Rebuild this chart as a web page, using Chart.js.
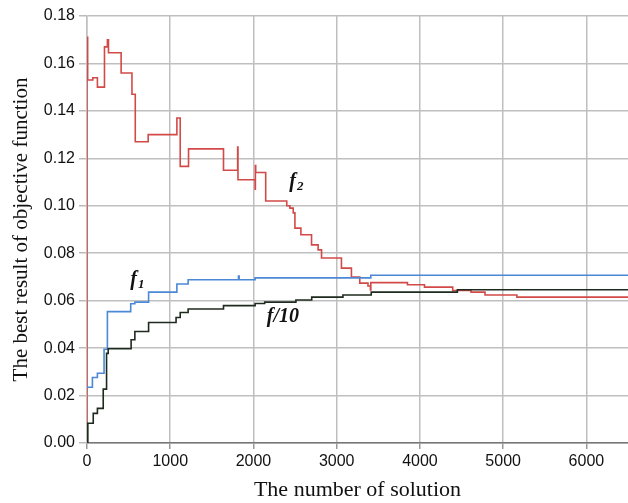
<!DOCTYPE html>
<html lang="en">
<head>
    <meta charset="UTF-8">
    <title>Best result of objective function</title>
    <script src="https://cdn.jsdelivr.net/npm/chart.js"></script>
    <style>
        html, body { margin: 0; padding: 0; background: #fff; }
        #wrap { width: 628px; height: 503px; position: relative; }
    </style>
</head>
<body>
    <div id="wrap">
        <canvas id="chart"></canvas>
    </div>

    <script>
        // step points: [number of solution, best value]; value holds until next point
        const f2Steps = [
            [0, 0], [0, 0.171], [8, 0.153], [70, 0.154], [125, 0.150], [210, 0.167],
            [245, 0.170], [258, 0.1645], [410, 0.156], [540, 0.147], [580, 0.127],
            [735, 0.130], [1080, 0.137], [1120, 0.1166], [1220, 0.124], [1640, 0.115],
            [1810, 0.1248], [1814, 0.111], [2020, 0.107], [2023, 0.117], [2027, 0.114],
            [2147, 0.102], [2400, 0.100], [2438, 0.099], [2478, 0.097], [2498, 0.0906],
            [2570, 0.0878], [2698, 0.0835], [2777, 0.0814], [2818, 0.078], [3057, 0.0737],
            [3177, 0.070], [3277, 0.0674], [3376, 0.0662], [3405, 0.0645], [3410, 0.0676],
            [3850, 0.0667], [4055, 0.0657], [4394, 0.0643], [4614, 0.0636], [4782, 0.0624],
            [5165, 0.0615], [6500, 0.0615]
        ];
        const f1Steps = [
            [0, 0.0235], [65, 0.0276], [125, 0.0294], [205, 0.0395], [245, 0.0554],
            [525, 0.0587], [575, 0.0594], [740, 0.0636], [1080, 0.067], [1215, 0.0688],
            [1820, 0.0704], [1828, 0.0688], [2020, 0.0696], [3410, 0.0707], [6500, 0.0707]
        ];
        const f10Steps = [
            [0, 0], [10, 0.0083], [75, 0.0125], [125, 0.0146], [195, 0.0227], [235, 0.0378],
            [255, 0.0397], [530, 0.0435], [575, 0.047], [740, 0.0508], [1070, 0.0529],
            [1120, 0.055], [1215, 0.0565], [1640, 0.0579], [2020, 0.0588], [2135, 0.0594],
            [2510, 0.0603], [2700, 0.0615], [3075, 0.0624], [3415, 0.0636], [4450, 0.0646],
            [6500, 0.0646]
        ];
        const xTicks = [0, 1000, 2000, 3000, 4000, 5000, 6000];
        const curveLabels = [
            { text: 'f', sub: '2', x: 2430, y: 0.1080 },
            { text: 'f', sub: '1', x: 520, y: 0.0665 },
            { text: 'f/10', sub: '', x: 2160, y: 0.0511 }
        ];
        const xTitle = 'The number of solution';
        const yTitle = 'The best result of objective function';

        const toXY = arr => arr.map(p => ({ x: p[0], y: p[1] }));

        const labelPlugin = {
            id: 'curveLabels',
            afterDatasetsDraw(chart) {
                const ctx = chart.ctx;
                const xs = chart.scales.x, ys = chart.scales.y;
                ctx.save();
                ctx.fillStyle = '#111';
                ctx.textBaseline = 'alphabetic';
                curveLabels.forEach(l => {
                    const px = xs.getPixelForValue(l.x);
                    const py = ys.getPixelForValue(l.y);
                    ctx.font = 'italic bold 20px "Liberation Serif", "Times New Roman", serif';
                    ctx.fillText(l.text, px, py);
                    if (l.sub) {
                        const w = ctx.measureText(l.text).width;
                        ctx.font = 'italic bold 13px "Liberation Serif", "Times New Roman", serif';
                        ctx.fillText(l.sub, px + w + 1, py + 3);
                    }
                });
                ctx.restore();
            }
        };

        const common = { fill: false, pointRadius: 0, borderWidth: 1.6, stepped: 'before' };

        new Chart(document.getElementById('chart'), {
            type: 'line',
            data: {
                datasets: [
                    { ...common, label: 'f/10', data: toXY(f10Steps), borderColor: '#1f2a1f' },
                    { ...common, label: 'f1', data: toXY(f1Steps), borderColor: '#4b88d6' },
                    { ...common, label: 'f2', data: toXY(f2Steps), borderColor: '#d24a47' }
                ]
            },
            options: {
                responsive: true,
                maintainAspectRatio: false,
                animation: false,
                layout: { padding: { top: 16, right: 0, left: 9, bottom: 0 } },
                plugins: {
                    legend: { display: false },
                    tooltip: { enabled: false }
                },
                scales: {
                    x: {
                        type: 'linear',
                        min: 0,
                        max: 6500,
                        afterBuildTicks(scale) {
                            scale.ticks = xTicks.map(v => ({ value: v }));
                        },
                        border: { color: '#777', width: 1.5 },
                        grid: { color: '#bfbfbf', lineWidth: 1.5, tickLength: 6, tickColor: '#999' },
                        ticks: {
                            color: '#111',
                            padding: 3,
                            maxRotation: 0,
                            autoSkip: false,
                            callback: v => String(v),
                            font: { family: '"Liberation Sans", Arial, sans-serif', size: 16 }
                        },
                        title: {
                            display: true,
                            text: xTitle,
                            color: '#111',
                            padding: { top: 2, bottom: 0 },
                            font: { family: '"Liberation Serif", "Times New Roman", serif', size: 22 }
                        },
                        afterFit(scale) { scale.height = 60; }
                    },
                    y: {
                        min: 0,
                        max: 0.18,
                        border: { color: '#bfbfbf', width: 1.5 },
                        grid: { color: '#bfbfbf', lineWidth: 1.5, tickLength: 8, tickColor: '#bbb' },
                        ticks: {
                            stepSize: 0.02,
                            color: '#111',
                            padding: 4,
                            callback: v => v.toFixed(2),
                            font: { family: '"Liberation Sans", Arial, sans-serif', size: 16 }
                        },
                        title: {
                            display: true,
                            text: yTitle,
                            color: '#111',
                            padding: { top: 0, bottom: 4 },
                            font: { family: '"Liberation Serif", "Times New Roman", serif', size: 21 }
                        },
                        afterFit(scale) { scale.width = 78; }
                    }
                }
            },
            plugins: [labelPlugin]
        });
    </script>
</body>
</html>
